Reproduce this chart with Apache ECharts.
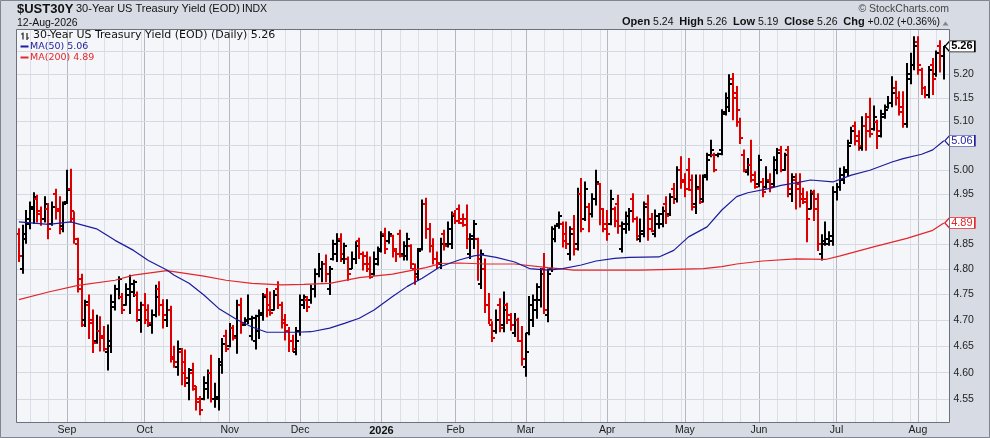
<!DOCTYPE html>
<html>
<head>
<meta charset="utf-8">
<script src="https://cdn.jsdelivr.net/npm/echarts@6/dist/echarts.min.js"></script>
<style>html,body{margin:0;padding:0;background:#d6dbe4;}#c{width:990px;height:438px;}</style>
</head>
<body>
<div id="c"></div>
<script>
// Trading days (categories), grouped by month
const monthDays = [
  ['2025-08',[13,14,15,18,19,20,21,22,25,26,27,28,29]],
  ['2025-09',[2,3,4,5,8,9,10,11,12,15,16,17,18,19,22,23,24,25,26,29,30]],
  ['2025-10',[1,2,3,6,7,8,9,10,13,14,15,16,17,20,21,22,23,24,27,28,29,30,31]],
  ['2025-11',[3,4,5,6,7,10,11,12,13,14,17,18,19,20,21,24,25,26,28]],
  ['2025-12',[1,2,3,4,5,8,9,10,11,12,15,16,17,18,19,22,23,24,26,29,30,31]],
  ['2026-01',[2,5,6,7,8,9,12,13,14,15,16,20,21,22,23,26,27,28,29,30]],
  ['2026-02',[2,3,4,5,6,9,10,11,12,13,17,18,19,20,23,24,25,26,27]],
  ['2026-03',[2,3,4,5,6,9,10,11,12,13,16,17,18,19,20,23,24,25,26,27,30,31]],
  ['2026-04',[1,2,6,7,8,9,10,13,14,15,16,17,20,21,22,23,24,27,28,29,30]],
  ['2026-05',[1,4,5,6,7,8,11,12,13,14,15,18,19,20,21,22,26,27,28,29]],
  ['2026-06',[1,2,3,4,5,8,9,10,11,12,15,16,17,18,22,23,24,25,26,29,30]],
  ['2026-07',[1,2,6,7,8,9,10,13,14,15,16,17,20,21,22,23,24,27,28,29,30,31]],
  ['2026-08',[3,4,5,6,7,10,11,12]]
];
const categories = [];
monthDays.forEach(([m, ds]) => ds.forEach(d => categories.push(m + '-' + String(d).padStart(2, '0'))));

const opens = [
4.87,4.80,4.86,4.89,4.92,4.94,4.915,4.90,4.92,4.89,
4.95,4.92,4.885,4.935,4.96,4.90,4.85,4.78,4.70,4.73,
4.70,4.66,4.68,4.67,4.64,4.65,4.725,4.76,4.745,4.73,
4.75,4.755,4.75,4.70,4.73,4.72,4.69,4.71,4.76,4.73,
4.70,4.72,4.63,4.61,4.64,4.62,4.58,4.60,4.57,4.55,
4.55,4.57,4.60,4.55,4.55,4.62,4.67,4.65,4.685,4.67,
4.73,4.69,4.70,4.67,4.66,4.68,4.71,4.75,4.73,4.72,
4.76,4.73,4.70,4.68,4.66,4.64,4.68,4.73,4.74,4.74,
4.76,4.79,4.80,4.81,4.76,4.82,4.83,4.86,4.82,4.82,
4.80,4.82,4.855,4.83,4.825,4.81,4.79,4.81,4.84,4.87,
4.855,4.865,4.84,4.87,4.83,4.825,4.845,4.80,4.79,4.84,
4.93,4.88,4.845,4.82,4.81,4.87,4.85,4.85,4.91,4.92,
4.90,4.90,4.83,4.86,4.86,4.77,4.80,4.73,4.69,4.68,
4.73,4.69,4.73,4.71,4.675,4.70,4.66,4.61,4.675,4.70,
4.72,4.74,4.80,4.71,4.80,4.86,4.89,4.89,4.87,4.83,
4.88,4.85,4.95,4.90,4.925,4.91,4.94,4.97,4.92,4.88,
4.89,4.92,4.93,4.84,4.88,4.89,4.94,4.90,4.86,4.87,
4.93,4.90,4.87,4.89,4.89,4.93,4.91,4.96,4.94,5.00,
4.98,5.00,4.98,4.93,4.96,4.94,4.99,5.03,5.03,5.03,
5.04,5.12,5.13,5.19,5.15,5.10,5.03,4.995,5.01,4.99,
4.97,4.975,4.965,4.98,4.97,5.00,5.04,5.00,5.04,4.95,
4.98,4.97,4.95,4.94,4.92,4.955,4.94,4.83,4.85,4.85,
4.855,4.955,4.965,4.98,4.995,5.055,5.09,5.07,5.045,5.09,
5.11,5.085,5.10,5.07,5.11,5.13,5.14,5.17,5.15,5.12,
5.095,5.19,5.22,5.27,5.21,5.17,5.155,5.22,5.20,5.26,
5.24];
const highs = [
4.88,4.887,4.917,4.934,4.953,4.948,4.924,4.945,4.931,4.934,
4.96,4.945,4.934,4.999,5.001,4.914,4.861,4.79,4.739,4.749,
4.72,4.71,4.707,4.688,4.691,4.749,4.768,4.785,4.752,4.771,
4.788,4.778,4.755,4.735,4.752,4.73,4.72,4.768,4.775,4.74,
4.74,4.727,4.65,4.66,4.646,4.643,4.608,4.618,4.574,4.555,
4.592,4.605,4.633,4.58,4.627,4.665,4.681,4.694,4.69,4.739,
4.743,4.705,4.749,4.708,4.71,4.72,4.752,4.762,4.755,4.758,
4.775,4.735,4.711,4.686,4.671,4.686,4.749,4.749,4.746,4.768,
4.80,4.831,4.815,4.828,4.805,4.857,4.87,4.87,4.851,4.824,
4.834,4.854,4.861,4.834,4.834,4.824,4.834,4.844,4.874,4.881,
4.874,4.867,4.841,4.877,4.854,4.871,4.848,4.81,4.841,4.938,
4.942,4.891,4.86,4.834,4.861,4.877,4.894,4.914,4.917,4.928,
4.91,4.928,4.87,4.897,4.861,4.838,4.82,4.752,4.697,4.72,
4.742,4.755,4.733,4.713,4.713,4.704,4.688,4.675,4.746,4.749,
4.771,4.801,4.831,4.80,4.884,4.887,4.914,4.894,4.894,4.884,
4.907,4.962,4.982,4.975,4.931,4.951,4.999,4.972,4.921,4.917,
4.958,4.924,4.948,4.894,4.914,4.921,4.951,4.904,4.90,4.934,
4.948,4.911,4.918,4.911,4.924,4.945,4.951,4.972,5.006,5.027,
4.992,5.023,4.989,4.989,4.989,4.989,5.034,5.061,5.034,5.034,
5.125,5.16,5.199,5.202,5.174,5.107,5.041,5.023,5.061,4.996,
5.03,4.982,5.006,4.992,5.027,5.044,5.048,5.034,5.048,4.992,
4.992,4.992,4.962,4.955,4.958,4.958,4.951,4.868,4.894,4.874,
4.965,4.972,5.003,5.006,5.061,5.088,5.099,5.081,5.11,5.117,
5.149,5.133,5.103,5.124,5.135,5.153,5.195,5.185,5.163,5.163,
5.223,5.245,5.281,5.281,5.213,5.174,5.217,5.234,5.25,5.272,
5.26];
const lows = [
4.815,4.792,4.851,4.88,4.891,4.894,4.887,4.894,4.86,4.887,
4.90,4.87,4.874,4.931,4.894,4.851,4.755,4.688,4.688,4.665,
4.638,4.656,4.641,4.641,4.605,4.638,4.72,4.742,4.713,4.729,
4.713,4.746,4.698,4.677,4.694,4.688,4.675,4.707,4.71,4.685,
4.688,4.62,4.61,4.595,4.577,4.574,4.549,4.567,4.53,4.521,
4.549,4.552,4.545,4.535,4.53,4.599,4.64,4.649,4.662,4.637,
4.675,4.69,4.694,4.662,4.645,4.665,4.70,4.707,4.71,4.72,
4.723,4.685,4.662,4.64,4.64,4.634,4.671,4.723,4.717,4.733,
4.745,4.785,4.775,4.775,4.75,4.818,4.815,4.815,4.811,4.778,
4.801,4.811,4.821,4.798,4.795,4.782,4.788,4.808,4.834,4.831,
4.851,4.824,4.815,4.824,4.818,4.818,4.801,4.77,4.778,4.838,
4.861,4.834,4.81,4.801,4.801,4.838,4.844,4.841,4.891,4.891,
4.885,4.841,4.821,4.841,4.778,4.762,4.715,4.694,4.659,4.675,
4.678,4.678,4.694,4.681,4.669,4.659,4.614,4.593,4.672,4.688,
4.704,4.726,4.713,4.697,4.795,4.854,4.881,4.844,4.841,4.818,
4.828,4.838,4.874,4.897,4.874,4.904,4.928,4.888,4.874,4.857,
4.888,4.884,4.871,4.834,4.871,4.877,4.894,4.857,4.854,4.864,
4.857,4.874,4.864,4.881,4.884,4.891,4.907,4.931,4.934,4.962,
4.945,4.958,4.918,4.911,4.931,4.934,4.979,5.027,4.996,5.027,
5.031,5.114,5.121,5.104,5.09,5.054,4.996,4.989,4.975,4.962,
4.965,4.945,4.962,4.955,4.965,4.992,4.996,4.999,4.945,4.935,
4.92,4.924,4.931,4.854,4.92,4.897,4.837,4.818,4.847,4.847,
4.847,4.938,4.958,4.972,4.987,5.054,5.051,5.04,5.04,5.04,
5.068,5.082,5.044,5.068,5.107,5.128,5.131,5.135,5.114,5.088,
5.088,5.18,5.21,5.20,5.157,5.15,5.15,5.157,5.196,5.205,
5.19];
const closes = [
4.825,4.87,4.90,4.925,4.945,4.91,4.90,4.93,4.88,4.925,
4.915,4.88,4.93,4.958,4.915,4.86,4.76,4.69,4.735,4.694,
4.656,4.68,4.665,4.645,4.66,4.735,4.76,4.78,4.72,4.76,
4.77,4.775,4.72,4.73,4.70,4.695,4.71,4.745,4.73,4.71,
4.72,4.625,4.62,4.645,4.60,4.59,4.605,4.575,4.545,4.53,
4.58,4.60,4.55,4.555,4.615,4.655,4.645,4.685,4.665,4.73,
4.695,4.698,4.702,4.705,4.708,4.715,4.745,4.72,4.715,4.75,
4.73,4.695,4.69,4.66,4.645,4.66,4.74,4.745,4.725,4.76,
4.79,4.80,4.81,4.79,4.80,4.85,4.855,4.83,4.845,4.79,
4.82,4.845,4.83,4.81,4.80,4.785,4.82,4.835,4.865,4.84,
4.87,4.835,4.83,4.826,4.845,4.86,4.81,4.785,4.835,4.93,
4.88,4.845,4.82,4.812,4.85,4.845,4.88,4.905,4.895,4.892,
4.888,4.86,4.865,4.89,4.82,4.83,4.73,4.70,4.665,4.70,
4.685,4.72,4.70,4.69,4.70,4.66,4.625,4.64,4.73,4.74,
4.765,4.79,4.72,4.79,4.88,4.885,4.905,4.855,4.85,4.87,
4.84,4.95,4.88,4.96,4.91,4.94,4.975,4.92,4.89,4.87,
4.94,4.895,4.885,4.89,4.905,4.915,4.90,4.865,4.875,4.925,
4.88,4.875,4.905,4.91,4.915,4.905,4.945,4.94,5.00,4.975,
4.96,4.958,4.925,4.965,4.935,4.985,5.02,5.04,5.00,5.033,
5.115,5.15,5.18,5.16,5.125,5.065,5.00,5.01,4.98,4.965,
5.02,4.955,4.975,4.965,5.02,5.035,5.00,5.03,4.96,4.985,
4.96,4.94,4.935,4.90,4.95,4.92,4.85,4.855,4.86,4.865,
4.955,4.965,4.99,5.00,5.05,5.08,5.06,5.05,5.09,5.08,
5.075,5.11,5.08,5.115,5.125,5.14,5.16,5.15,5.13,5.095,
5.20,5.22,5.26,5.22,5.17,5.155,5.21,5.19,5.245,5.24,
5.26];

// Moving averages (bar index, value)
const ma50Idx = [0,8,14,21,26,31,35,40,42,46,50,54,59,63,67,72,75,79,84,88,92,96,101,105,109,114,119,123,125,129,134,138,143,147,152,156,161,165,173,177,181,186,190,194,197,203,206,210,214,220,225,230,236,239,244,247,250];
const ma50Val = [4.894,4.889,4.894,4.88,4.857,4.837,4.817,4.798,4.788,4.772,4.749,4.723,4.701,4.687,4.677,4.677,4.677,4.678,4.685,4.694,4.704,4.72,4.746,4.766,4.782,4.805,4.818,4.826,4.828,4.823,4.814,4.801,4.798,4.801,4.808,4.816,4.821,4.823,4.824,4.837,4.864,4.884,4.918,4.945,4.953,4.962,4.968,4.973,4.979,4.975,4.989,4.999,5.016,5.023,5.032,5.041,5.06];
const ma200Idx = [0,8,16,26,31,40,50,56,63,71,77,84,92,101,110,114,119,126,134,143,150,161,168,185,190,194,201,210,218,222,231,240,247,250];
const ma200Val = [4.74,4.755,4.768,4.778,4.788,4.797,4.786,4.778,4.772,4.769,4.77,4.772,4.783,4.79,4.803,4.811,4.812,4.81,4.81,4.803,4.798,4.798,4.798,4.801,4.805,4.81,4.816,4.82,4.819,4.826,4.844,4.861,4.877,4.892];

const yTicks = [4.55,4.60,4.65,4.70,4.75,4.80,4.85,4.90,4.95,5.00,5.05,5.10,5.15,5.20,5.25];
const monthNames = ['Jan','Feb','Mar','Apr','May','Jun','Jul','Aug','Sep','Oct','Nov','Dec'];

const lastIdx = categories.length - 1;
const lastClose = closes[lastIdx];
const lastMA50 = ma50Val[ma50Val.length - 1];
const lastMA200 = ma200Val[ma200Val.length - 1];
const tagValues = [lastClose, lastMA50, lastMA200];

// month starts / minor grid every 5 sessions
const monthStarts = [];
for (let i = 1; i < categories.length; i++) {
  if (categories[i].slice(0, 7) !== categories[i - 1].slice(0, 7)) monthStarts.push(i);
}
const monthSet = new Set(monthStarts);
const minorLines = [];
for (let k = monthStarts[0] - 5; k >= 0; k -= 5) minorLines.push(k);
monthStarts.forEach((m, j) => {
  const next = j + 1 < monthStarts.length ? monthStarts[j + 1] : categories.length;
  for (let k = m + 5; k < next; k += 5) minorLines.push(k);
});

const FONT = '"Liberation Sans", Arial, sans-serif';
const RED = '#dd0000';
const BLUE = '#1c1c9c';
const MARED = '#e3262b';

const ohlcData = categories.map((d, i) => [i, opens[i], highs[i], lows[i], closes[i]]);

function renderOHLC(params, api) {
  const i = api.value(0);
  const o = api.coord([i, api.value(1)]);
  const h = api.coord([i, api.value(2)]);
  const l = api.coord([i, api.value(3)]);
  const c = api.coord([i, api.value(4)]);
  const prev = i > 0 ? closes[i - 1] : opens[i];
  const col = api.value(4) < prev ? RED : '#000000';
  const x = Math.round(h[0]);
  const st = { stroke: col, lineWidth: 2 };
  return {
    type: 'group',
    children: [
      { type: 'line', shape: { x1: x, y1: h[1] - 0.5, x2: x, y2: l[1] + 0.5 }, style: st },
      { type: 'line', shape: { x1: x - 3, y1: Math.round(o[1]), x2: x, y2: Math.round(o[1]) }, style: st },
      { type: 'line', shape: { x1: x, y1: Math.round(c[1]), x2: x + 3, y2: Math.round(c[1]) }, style: st }
    ]
  };
}

const tagPath = 'path://M0,5L5,0L30,0L30,10L5,10Z';
function tag(value, color, bold) {
  return {
    symbol: tagPath, symbolSize: [30, 11], symbolOffset: [16, 0],
    itemStyle: { color: '#ffffff', borderColor: color, borderWidth: 1 },
    label: { show: true, position: 'inside', offset: [2, 0], formatter: value.toFixed(2),
      color: color, fontSize: 11, fontFamily: FONT, fontWeight: bold ? 'bold' : 'normal' },
    silent: true, animation: false
  };
}

// axis labels that sit behind a value tag are covered in the original
function coveredByTag(v) {
  return tagValues.some(t => Math.abs(Math.log(v / t)) * 2433 < 9);
}
const hLines = yTicks.map(v => ({ yAxis: v, lineStyle: { color: '#d6d9e0', width: 1, type: 'solid' },
  label: { show: !coveredByTag(v) } }));
const vMinor = minorLines.map(k => ({ xAxis: categories[k], lineStyle: { color: '#dcdfe6', width: 1, type: 'solid' }, label: { show: false } }));
const vMajor = monthStarts.map(k => ({ xAxis: categories[k], lineStyle: { color: '#b4b8c3', width: 1, type: 'solid' }, label: { show: false } }));

const chart = echarts.init(document.getElementById('c'), null, { width: 990, height: 438 });
chart.setOption({
  animation: false,
  grid: { left: 17, right: 990 - 949.4, top: 30, bottom: 16, containLabel: false },
  xAxis: {
    type: 'category', data: categories.concat(['']), boundaryGap: true,
    axisLine: { show: false }, axisTick: { show: false }, splitLine: { show: false },
    axisLabel: {
      interval: (idx) => monthSet.has(idx), margin: 3, fontSize: 10.5, fontFamily: FONT, color: '#1a1a1a',
      formatter: (v) => {
        if (!v) return '';
        const m = parseInt(v.slice(5, 7), 10);
        return m === 1 ? '{y|' + v.slice(0, 4) + '}' : monthNames[m - 1];
      },
      rich: { y: { fontWeight: 'bold', fontSize: 11, fontFamily: FONT, color: '#111' } }
    }
  },
  yAxis: {
    type: 'log', logBase: 10, min: 4.5076, max: 5.2956, position: 'right',
    axisLine: { show: false }, axisTick: { show: false }, axisLabel: { show: false }, splitLine: { show: false }
  },
  series: [
    {
      name: 'grid', type: 'line', z: 1, silent: true, symbol: 'none',
      data: [[categories[0], 4.9]], lineStyle: { opacity: 0 },
      markLine: {
        z: 1, silent: true, symbol: ['none', 'none'], animation: false,
        label: { show: true, position: 'end', distance: 4, formatter: (p) => (p.value != null ? Number(p.value).toFixed(2) : ''),
          color: '#1e1e1e', fontSize: 10.5, fontFamily: FONT },
        data: vMinor.concat(vMajor).concat(hLines)
      },
      markPoint: {
        z: 10,
        data: [Object.assign({ coord: [categories[lastIdx], lastClose] }, tag(lastClose, '#000000', true))]
      }
    },
    {
      name: 'UST30Y', type: 'custom', z: 3, renderItem: renderOHLC, data: ohlcData,
      encode: { x: 0, y: [1, 2, 3, 4] }, clip: true
    },
    {
      name: 'MA(200)', type: 'line', z: 4, symbol: 'none', smooth: false, silent: true,
      data: ma200Idx.map((k, j) => [categories[k], ma200Val[j]]),
      lineStyle: { color: MARED, width: 1.2 },
      markPoint: { z: 10, data: [Object.assign({ coord: [categories[lastIdx], lastMA200] }, tag(lastMA200, MARED, false))] }
    },
    {
      name: 'MA(50)', type: 'line', z: 4, symbol: 'none', smooth: false, silent: true,
      data: ma50Idx.map((k, j) => [categories[k], ma50Val[j]]),
      lineStyle: { color: BLUE, width: 1.2 },
      markPoint: { z: 10, data: [Object.assign({ coord: [categories[lastIdx], lastMA50] }, tag(lastMA50, BLUE, false))] }
    }
  ],
  graphic: [
    { type: 'rect', z: -10, silent: true, shape: { x: 0.5, y: 0.5, width: 989, height: 437 }, style: { fill: '#d6dbe4', stroke: '#80858f', lineWidth: 1 } },
    { type: 'rect', z: -9, silent: true, shape: { x: 17, y: 30, width: 932, height: 392 }, style: { fill: '#f5f6fa' } },
    { type: 'rect', z: 50, silent: true, shape: { x: 16.5, y: 29.5, width: 933, height: 393 }, style: { fill: 'none', stroke: '#6c717d', lineWidth: 1 } },
    { type: 'text', z: 60, x: 17, y: 9, style: { text: '$UST30Y', font: 'bold 13px ' + FONT, fill: '#111', verticalAlign: 'middle' } },
    { type: 'text', z: 60, x: 76, y: 9, style: { text: '30-Year US Treasury Yield (EOD)', font: '11px ' + FONT, fill: '#111', verticalAlign: 'middle' } },
    { type: 'text', z: 60, x: 242, y: 9, style: { text: 'INDX', font: '10.5px ' + FONT, fill: '#111', verticalAlign: 'middle' } },
    { type: 'text', z: 60, x: 17, y: 23, style: { text: '12-Aug-2026', font: '10.5px ' + FONT, fill: '#111', verticalAlign: 'middle' } },
    { type: 'text', z: 60, x: 949, y: 9, style: { text: '\u00A9 StockCharts.com', font: '10.5px ' + FONT, fill: '#444', align: 'right', verticalAlign: 'middle' } },
    { type: 'text', z: 60, x: 940, y: 22, style: {
        text: '{b|Open} 5.24  {b|High} 5.26  {b|Low} 5.19  {b|Close} 5.26  {b|Chg} +0.02 (+0.36%)',
        font: '10.5px ' + FONT, fill: '#111', align: 'right', verticalAlign: 'middle',
        rich: { b: { fontWeight: 'bold', fontSize: 11, fontFamily: FONT, fill: '#111' } } } },
    { type: 'polygon', z: 60, shape: { points: [[942.5, 25.5], [948.5, 25.5], [945.5, 21.5]] }, style: { fill: '#80858f' } },
    // in-plot legend
    { type: 'line', z: 60, shape: { x1: 23, y1: 32.5, x2: 23, y2: 39.5 }, style: { stroke: '#222', lineWidth: 1.2 } },
    { type: 'line', z: 60, shape: { x1: 21, y1: 34, x2: 23, y2: 34 }, style: { stroke: '#222', lineWidth: 1.2 } },
    { type: 'line', z: 60, shape: { x1: 27, y1: 33, x2: 27, y2: 40 }, style: { stroke: '#222', lineWidth: 1.2 } },
    { type: 'line', z: 60, shape: { x1: 27, y1: 38, x2: 29, y2: 38 }, style: { stroke: '#222', lineWidth: 1.2 } },
    { type: 'text', z: 60, x: 33, y: 35.5, style: { text: '30-Year US Treasury Yield (EOD) (Daily) ' + lastClose.toFixed(2), font: '11px "DejaVu Sans", Verdana, sans-serif', fill: '#111', verticalAlign: 'middle' } },
    { type: 'line', z: 60, shape: { x1: 20.5, y1: 46.5, x2: 28.5, y2: 46.5 }, style: { stroke: BLUE, lineWidth: 2 } },
    { type: 'text', z: 60, x: 30, y: 46.5, style: { text: 'MA(50) ' + lastMA50.toFixed(2), font: '9.5px "DejaVu Sans", Verdana, sans-serif', fill: BLUE, verticalAlign: 'middle' } },
    { type: 'line', z: 60, shape: { x1: 20.5, y1: 57.5, x2: 28.5, y2: 57.5 }, style: { stroke: MARED, lineWidth: 2 } },
    { type: 'text', z: 60, x: 30, y: 57.5, style: { text: 'MA(200) ' + lastMA200.toFixed(2), font: '9.5px "DejaVu Sans", Verdana, sans-serif', fill: MARED, verticalAlign: 'middle' } }
  ]
});
</script>
</body>
</html>
